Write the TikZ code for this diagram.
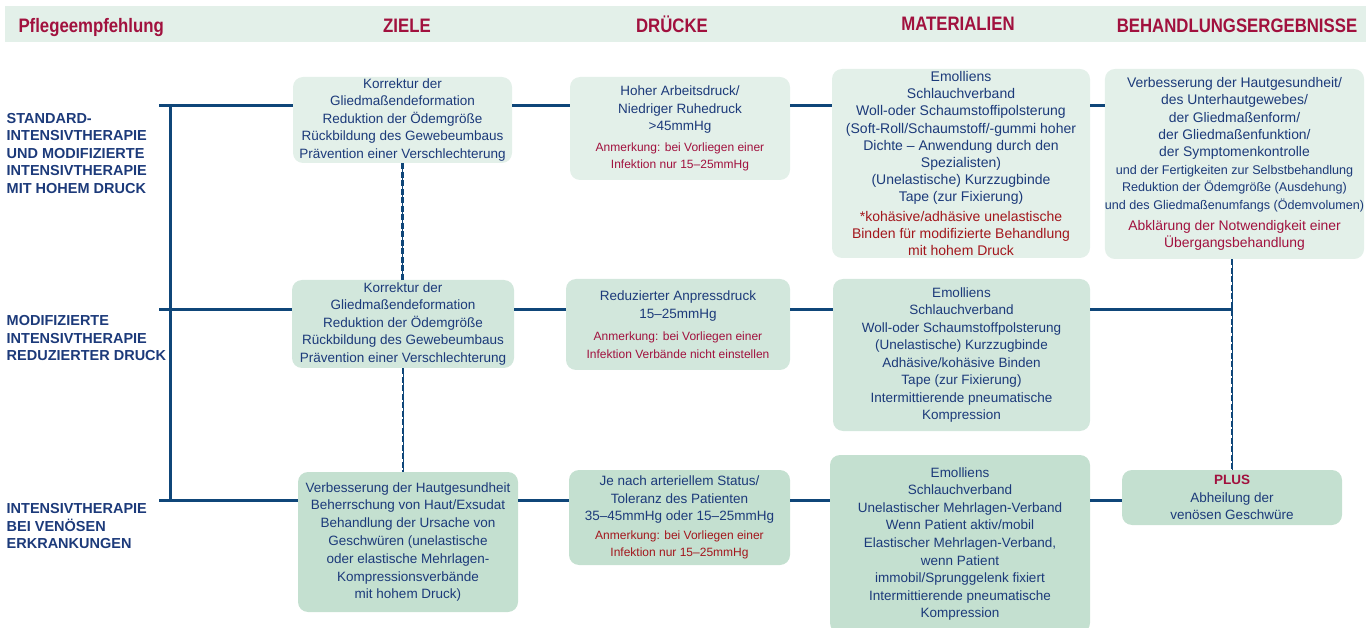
\documentclass[tikz,border=0pt]{standalone}
\usepackage{fontspec}
\usepackage{graphicx}
\setmainfont{Liberation Sans}

\definecolor{navy}{HTML}{1C3A7A}
\definecolor{linecol}{HTML}{0F4679}
\definecolor{crimson}{HTML}{A1113E}
\definecolor{brick}{HTML}{A3161C}
\definecolor{fillA}{HTML}{E3F0E9}
\definecolor{fillB}{HTML}{D2E7DC}
\definecolor{fillC}{HTML}{C4E0D0}

% red remarks inside the boxes
\newcommand{\anm}[1]{{\fontsize{12}{17}\selectfont\color{crimson}#1}}
\newcommand{\anmr}[1]{{\color{brick}#1}}
\newcommand{\hd}[1]{\scalebox{0.86}[1]{#1}}
\newcommand{\sm}[1]{{\fontsize{12.6}{17}\selectfont #1}}

\begin{document}
\begin{tikzpicture}[x=1pt,y=-1pt,
    box/.style={rounded corners=10pt, align=center, inner sep=0pt, text=navy,
      font=\fontsize{13.5}{17.5}\selectfont},
    rowa/.style={box, fill=fillA},
    rowb/.style={box, fill=fillB},
    rowc/.style={box, fill=fillC},
    head/.style={anchor=base, text=crimson, font=\fontsize{19.5}{22}\selectfont\bfseries},
    side/.style={anchor=west, align=left, inner sep=0pt, text=navy,
      font=\fontsize{14.5}{17.5}\selectfont\bfseries},
    link/.style={draw=linecol, line width=3pt},
    dashlink/.style={draw=linecol, line width=2.5pt, dash pattern=on 6pt off 2.5pt,
      preaction={draw=linecol, line width=0.8pt, solid}}]
  \useasboundingbox (0,0) rectangle (1369,628);

  % column heads
  \fill[fillA] (5,6) rectangle (1366,42);
  \node[head, anchor=base west] (pfl) at (15,33) {\hd{Pflegeempfehlung}};
  \node[head] (ziele) at (407,33) {\hd{ZIELE}};
  \node[head] (druck) at (672,33) {\hd{DRÜCKE}};
  \node[head] (mat) at (958,31) {\hd{MATERIALIEN}};
  \node[head] (erg) at (1237,33) {\hd{BEHANDLUNGSERGEBNISSE}};

  % row labels
  \node[side] (lab1) at (6.5,153.5) {STANDARD-\\INTENSIVTHERAPIE\\UND MODIFIZIERTE\\INTENSIVTHERAPIE\\MIT HOHEM DRUCK};
  \node[side] (lab2) at (6.5,338.5) {MODIFIZIERTE\\INTENSIVTHERAPIE\\REDUZIERTER DRUCK};
  \node[side] (lab3) at (6.5,526.5) {INTENSIVTHERAPIE\\BEI VENÖSEN\\ERKRANKUNGEN};

  % first row
  \node[rowa, minimum width=219, minimum height=86] (z1) at (402.5,120)
    {Korrektur der\\Gliedmaßendeformation\\Reduktion der Ödemgröße\\Rückbildung des Gewebeumbaus\\Prävention einer Verschlechterung};
  \node[rowa, minimum width=220, minimum height=103] (d1) at (680,128.5)
    {Hoher Arbeitsdruck/\\Niedriger Ruhedruck\\>45mmHg\\[3pt]\anm{Anmerkung: bei Vorliegen einer}\\\anm{Infektion nur 15–25mmHg}};
  \node[rowa, minimum width=258, minimum height=189, font=\fontsize{14}{17.2}\selectfont] (m1) at (961,163.5)
    {Emolliens\\Schlauchverband\\Woll-oder Schaumstoffipolsterung\\(Soft-Roll/Schaumstoff/-gummi hoher\\Dichte – Anwendung durch den\\Spezialisten)\\(Unelastische) Kurzzugbinde\\Tape (zur Fixierung)\\[2pt]\anmr{*kohäsive/adhäsive unelastische}\\\anmr{Binden für modifizierte Behandlung}\\\anmr{mit hohem Druck}};
  \node[rowa, minimum width=253, minimum height=190, font=\fontsize{13.9}{17.4}\selectfont] (e1) at (1234.5,164)
    {Verbesserung der Hautgesundheit/\\des Unterhautgewebes/\\der Gliedmaßenform/\\der Gliedmaßenfunktion/\\der Symptomenkontrolle\\\sm{und der Fertigkeiten zur Selbstbehandlung}\\\sm{Reduktion der Ödemgröße (Ausdehung)}\\\sm{und des Gliedmaßenumfangs (Ödemvolumen)}\\[4pt]{\color{crimson}Abklärung der Notwendigkeit einer}\\{\color{crimson}Übergangsbehandlung}};

  % second row
  \node[rowb, minimum width=222, minimum height=88] (z2) at (403,324)
    {Korrektur der\\Gliedmaßendeformation\\Reduktion der Ödemgröße\\Rückbildung des Gewebeumbaus\\Prävention einer Verschlechterung};
  \node[rowb, minimum width=224, minimum height=91] (d2) at (678,324.5)
    {Reduzierter Anpressdruck\\15–25mmHg\\[5pt]\anm{Anmerkung: bei Vorliegen einer}\\\anm{Infektion Verbände nicht einstellen}};
  \node[rowb, minimum width=257, minimum height=152] (m2) at (961.5,355)
    {Emolliens\\Schlauchverband\\Woll-oder Schaumstoffpolsterung\\(Unelastische) Kurzzugbinde\\Adhäsive/kohäsive Binden\\Tape (zur Fixierung)\\Intermittierende pneumatische\\Kompression};

  % third row
  \node[rowc, minimum width=220, minimum height=140, font=\fontsize{13.5}{17.8}\selectfont] (z3) at (408,542)
    {Verbesserung der Hautgesundheit\\Beherrschung von Haut/Exsudat\\Behandlung der Ursache von\\Geschwüren (unelastische\\oder elastische Mehrlagen-\\Kompressionsverbände\\mit hohem Druck)};
  \node[rowc, minimum width=221, minimum height=95] (d3) at (679.5,517.5)
    {Je nach arteriellem Status/\\Toleranz des Patienten\\35–45mmHg oder 15–25mmHg\\[1pt]{\fontsize{12}{16.5}\selectfont\color{brick}Anmerkung: bei Vorliegen einer}\\{\fontsize{12}{16.5}\selectfont\color{brick}Infektion nur 15–25mmHg}};
  \node[rowc, minimum width=260, minimum height=178, font=\fontsize{13.5}{17.6}\selectfont] (m3) at (960,544)
    {Emolliens\\Schlauchverband\\Unelastischer Mehrlagen-Verband\\Wenn Patient aktiv/mobil\\Elastischer Mehrlagen-Verband,\\wenn Patient\\immobil/Sprunggelenk fixiert\\Intermittierende pneumatische\\Kompression};
  \node[rowc, minimum width=220, minimum height=55] (e3) at (1232,497.5)
    {{\bfseries\color{crimson}PLUS}\\Abheilung der\\venösen Geschwüre};

  % trunk and rows
  \coordinate (h1) at (159,106);
  \coordinate (h2) at (159,310);
  \coordinate (h3) at (159,500);
  \draw[link] (170,106) -- (170,500);
  \draw[link] (h1) -- (z1.west |- h1) (z1.east |- h1) -- (d1.west |- h1)
    (d1.east |- h1) -- (m1.west |- h1) (m1.east |- h1) -- (e1.west |- h1);
  \draw[link] (h2) -- (z2.west |- h2) (z2.east |- h2) -- (d2.west |- h2)
    (d2.east |- h2) -- (m2.west |- h2) (m2.east |- h2) -- (e3.north |- h2);
  \draw[link] (h3) -- (z3.west |- h3) (z3.east |- h3) -- (d3.west |- h3)
    (d3.east |- h3) -- (m3.west |- h3) (m3.east |- h3) -- (e3.west |- h3);

  % dashed links
  \draw[dashlink] (z1.south) -- (z1.south |- z2.north);
  \draw[dashlink] (z2.south) -- (z2.south |- z3.north);
  \draw[dashlink] (e3.north |- e1.south) -- (e3.north);
\end{tikzpicture}
\end{document}
